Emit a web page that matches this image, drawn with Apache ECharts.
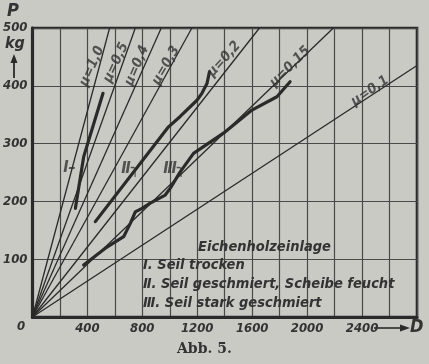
<!DOCTYPE html>
<html><head><meta charset="utf-8">
<script src="https://cdn.jsdelivr.net/npm/echarts@6/dist/echarts.min.js"></script>
<style>html,body{margin:0;padding:0;background:#c8cac3;}#c{width:429px;height:364px;}</style>
</head><body><div id="c"></div>
<script>
// ---- data ----
const xTicks = [400, 800, 1200, 1600, 2000, 2400];
const yTicks = [100, 200, 300, 400, 500];
const muNames = ['μ=1,0', 'μ=0,5', 'μ=0,4', 'μ=0,3', 'μ=0,2', 'μ=0,15', 'μ=0,1'];
const muEndD = [562, 749, 938, 1161, 1653, 2191, 2800];
const muEndP = [500, 500, 500, 500, 500, 500, 435];
const muLabelD = [434, 609, 761, 973, 1396, 1876, 2458];
const muLabelP = [434, 440, 435, 435, 446, 433, 391];
const muLabelRot = [66, 65, 67, 60, 48, 45, 35];
const curveI = [[313, 188], [373, 277], [514, 387]];
const curveII = [[458, 165], [991, 329], [1076, 347], [1198, 375], [1234, 387], [1271, 404], [1289, 424]];
const curveIII = [[373, 90], [531, 119], [664, 139], [713, 162], [749, 182], [798, 188], [858, 197], [967, 211], [1004, 223], [1076, 251], [1173, 283], [1391, 318], [1598, 358], [1780, 381], [1876, 407]];
const curveNames = ['I–', 'Ⅱ╮', 'Ⅲ╮'];
const curveLabelD = [270, 713, 1033];
const curveLabelP = [258, 256, 256];
const legendLines = ['Eichenholzeinlage', 'I. Seil trocken', 'Ⅱ. Seil geschmiert, Scheibe feucht', 'Ⅲ. Seil stark geschmiert'];

const FONT = "'DejaVu Sans Condensed','Liberation Sans Narrow','DejaVu Sans',sans-serif";
const INK = '#2a2a2a';
const TXT = '#333333';
const chart = echarts.init(document.getElementById('c'), null, {renderer: 'canvas'});

const series = [];
muNames.forEach((n, i) => {
  series.push({type: 'line', data: [[0, 0], [muEndD[i], muEndP[i]]], symbol: 'none', silent: true,
    lineStyle: {color: INK, width: 1.3}, z: 3});
});
series.push({type: 'scatter', symbolSize: 0, silent: true, z: 5,
  data: muNames.map((n, i) => ({value: [muLabelD[i], muLabelP[i]], name: n,
    label: {show: true, formatter: n, rotate: muLabelRot[i], position: 'inside',
      color: TXT, fontSize: 14, fontStyle: 'italic', fontWeight: 'bold', fontFamily: FONT}}))});
[curveI, curveII, curveIII].forEach(c => {
  series.push({type: 'line', data: c, symbol: 'none', silent: true,
    lineStyle: {color: INK, width: 3.2, join: 'round', cap: 'round'}, z: 4});
});
series.push({type: 'scatter', symbolSize: 0, silent: true, z: 5,
  data: curveNames.map((n, i) => ({value: [curveLabelD[i], curveLabelP[i]],
    label: {show: true, formatter: n, position: 'inside', color: TXT, fontSize: 16,
      fontStyle: 'italic', fontWeight: 'bold', fontFamily: FONT}}))});

const legendY = [249, 267, 286, 305];
const legendX = [198, 143, 143, 143];
const graphic = legendLines.map((t, i) => ({type: 'text', left: legendX[i], top: legendY[i] - 9, z: 10,
  style: {text: t, fill: TXT, font: 'italic bold 14.5px ' + FONT}}));
graphic.push(
  {type: 'text', left: 17, top: 320, style: {text: '0', fill: TXT, font: 'italic bold 13px ' + FONT}},
  {type: 'text', left: 7, top: 2, style: {text: 'P', fill: TXT, font: 'italic bold 18px ' + FONT}},
  {type: 'text', left: 5, top: 36, style: {text: 'kg', fill: TXT, font: 'italic bold 16px ' + FONT}},
  {type: 'line', shape: {x1: 14, y1: 78, x2: 14, y2: 60}, style: {stroke: INK, lineWidth: 1.8}},
  {type: 'polygon', shape: {points: [[14, 54], [10.5, 63], [17.5, 63]]}, style: {fill: INK}},
  {type: 'line', shape: {x1: 374, y1: 328, x2: 402, y2: 328}, style: {stroke: INK, lineWidth: 1.6}},
  {type: 'polygon', shape: {points: [[410, 328], [400, 324.5], [400, 331.5]]}, style: {fill: INK}},
  {type: 'text', left: 410, top: 318, style: {text: 'D', fill: TXT, font: 'italic bold 18px ' + FONT}},
  {type: 'text', left: 177, top: 342, style: {text: 'Abb. 5.', fill: TXT, font: "bold 14px 'DejaVu Serif',serif"}}
);

chart.setOption({
  backgroundColor: '#c8cac3',
  animation: false,
  grid: {left: 32, top: 28, width: 385, height: 289, show: true, borderColor: INK, borderWidth: 2.6, backgroundColor: 'transparent'},
  xAxis: {type: 'value', min: 0, max: 2800, interval: 200,
    axisLine: {show: true, lineStyle: {color: INK, width: 3.2}}, axisTick: {show: false},
    splitLine: {show: true, lineStyle: {color: '#4a4a4a', width: 1.2}},
    axisLabel: {formatter: v => xTicks.includes(v) ? String(v) : '', color: TXT, fontSize: 13,
      fontStyle: 'italic', fontWeight: 'bold', fontFamily: FONT, margin: 5, showMaxLabel: false}},
  yAxis: {type: 'value', min: 0, max: 500, interval: 100,
    axisLine: {show: true, lineStyle: {color: INK, width: 3.2}}, axisTick: {show: false},
    splitLine: {show: true, lineStyle: {color: '#4a4a4a', width: 1.2}},
    axisLabel: {formatter: v => yTicks.includes(v) ? String(v) : '', color: TXT, fontSize: 13,
      fontStyle: 'italic', fontWeight: 'bold', fontFamily: FONT, margin: 5}},
  series: series,
  graphic: graphic
});
</script></body></html>
